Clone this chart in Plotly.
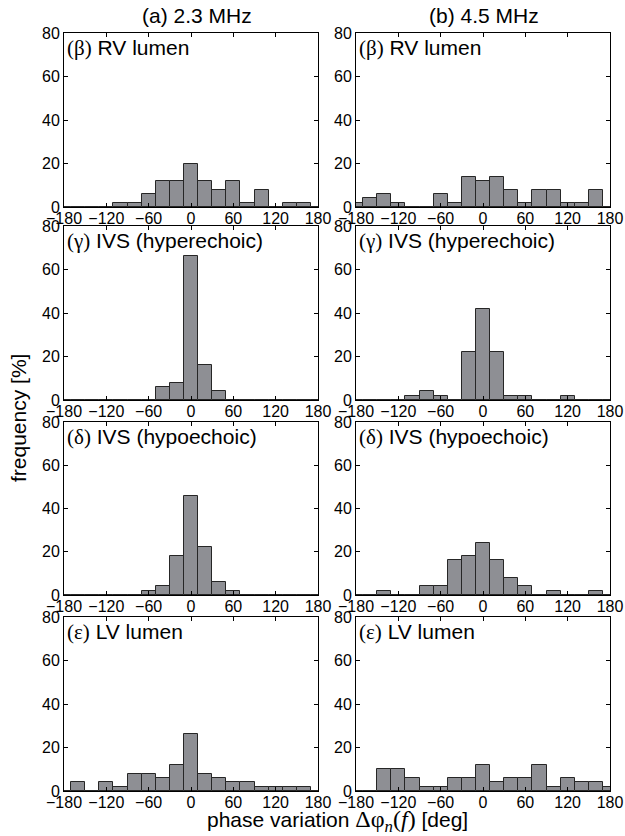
import plotly.graph_objects as go

centers = list(range(-180, 181, 20))  # bin centers, width 20 deg

# (a) 2.3 MHz
a_beta = [0, 0, 0, 0, 2, 2, 6, 12, 12, 20, 12, 8, 12, 2, 8, 0, 2, 2, 0]
a_gamma = [0, 0, 0, 0, 0, 0, 0, 6, 8, 66, 16, 4, 0, 0, 0, 0, 0, 0, 0]
a_delta = [0, 0, 0, 0, 0, 0, 2, 4, 18, 46, 22, 6, 2, 0, 0, 0, 0, 0, 0]
a_eps = [0, 4, 0, 4, 2, 8, 8, 6, 12, 26, 8, 6, 4, 4, 2, 2, 2, 2, 0]
# (b) 4.5 MHz
b_beta = [2, 4, 6, 2, 0, 0, 6, 2, 14, 12, 14, 8, 2, 8, 8, 2, 2, 8, 0]
b_gamma = [0, 0, 0, 0, 2, 4, 2, 0, 22, 42, 22, 2, 2, 0, 0, 2, 0, 0, 0]
b_delta = [0, 0, 2, 0, 0, 4, 4, 16, 18, 24, 16, 8, 4, 0, 2, 0, 0, 2, 0]
b_eps = [0, 0, 10, 10, 6, 2, 2, 6, 6, 12, 4, 6, 6, 12, 2, 6, 4, 4, 2]

panel_labels = ["(β)", "(γ)", "(δ)", "(ε)"]
panel_names = ["RV lumen", "IVS (hyperechoic)", "IVS (hypoechoic)", "LV lumen"]
col_titles = ["(a) 2.3 MHz", "(b) 4.5 MHz"]
xticks = [-180, -120, -60, 0, 60, 120, 180]
yticks = [0, 20, 40, 60, 80]

W, H = 625, 836
col_px = [(64, 318), (356, 610)]
row_px = [(33, 207), (226, 400), (422, 595), (617, 791)]
title_cx = [197, 484]

data = [[a_beta, b_beta], [a_gamma, b_gamma], [a_delta, b_delta], [a_eps, b_eps]]

FONT = "Liberation Sans, Arial, sans-serif"
SERIF = "Liberation Serif, Times New Roman, serif"

fig = go.Figure()
annotations = []
idx = 0
for r in range(4):
    for c in range(2):
        idx += 1
        suffix = "" if idx == 1 else str(idx)
        xa = "xaxis" + suffix
        ya = "yaxis" + suffix
        fig.add_trace(go.Bar(
            x=centers, y=data[r][c], width=20,
            marker=dict(color="#8e8f94", line=dict(color="#262626", width=1)),
            xaxis="x" + suffix, yaxis="y" + suffix, showlegend=False,
        ))
        x0, x1 = col_px[c]
        y0, y1 = row_px[r]
        fig.layout[xa] = dict(
            domain=[x0 / W, x1 / W], range=[-180, 180], anchor="y" + suffix,
            tickvals=xticks, ticks="inside", ticklen=4, tickcolor="black",
            showline=True, linecolor="black", linewidth=1, mirror="ticks",
            showgrid=False, zeroline=False, automargin=False,
            ticklabelstandoff=-3,
            tickfont=dict(family=FONT, size=16, color="black"),
        )
        fig.layout[ya] = dict(
            domain=[1 - y1 / H, 1 - y0 / H], range=[0, 80], anchor="x" + suffix,
            tickvals=yticks, ticks="inside", ticklen=4, tickcolor="black",
            showline=True, linecolor="black", linewidth=1, mirror="ticks",
            showgrid=False, zeroline=False, automargin=False,
            tickfont=dict(family=FONT, size=16, color="black"),
        )
        annotations.append(dict(
            xref="paper", yref="paper", x=(x0 + 1) / W, y=1 - (y0 + 1) / H,
            xanchor="left", yanchor="top", showarrow=False,
            text=f"<span style='font-family:{SERIF}'>{panel_labels[r]}</span> {panel_names[r]}",
            font=dict(family=FONT, size=21, color="black"),
        ))

for c in range(2):
    annotations.append(dict(
        xref="paper", yref="paper", x=title_cx[c] / W, y=1 - 16 / H,
        xanchor="center", yanchor="middle", showarrow=False,
        text=col_titles[c], font=dict(family=FONT, size=21, color="black"),
    ))

annotations.append(dict(
    xref="paper", yref="paper", x=18 / W, y=1 - 418 / H,
    xanchor="center", yanchor="middle", showarrow=False, textangle=-90,
    text="frequency [%]", font=dict(family=FONT, size=21, color="black"),
))
annotations.append(dict(
    xref="paper", yref="paper", x=338 / W, y=1 - 821 / H,
    xanchor="center", yanchor="middle", showarrow=False,
    text=(f"phase variation <span style='font-family:{SERIF};font-size:24px'>Δφ<sub><i>n</i></sub>(<i>f</i>)</span> [deg]"),
    font=dict(family=FONT, size=21, color="black"),
))

fig.update_layout(
    width=W, height=H,
    margin=dict(l=0, r=0, t=0, b=0, pad=0, autoexpand=False),
    paper_bgcolor="white", plot_bgcolor="white",
    bargap=0, annotations=annotations,
)

fig.write_html("out.html")
